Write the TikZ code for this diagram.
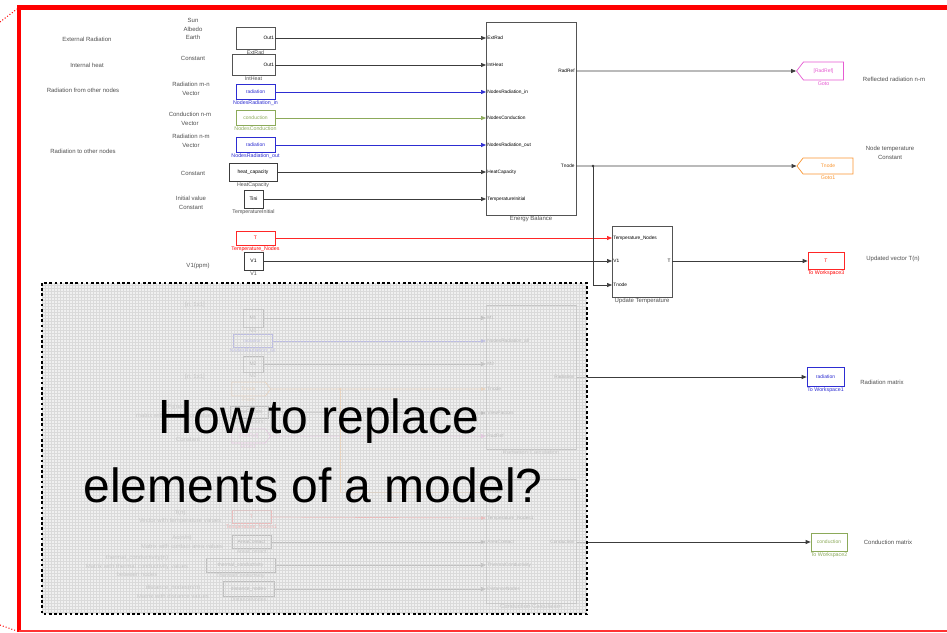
\documentclass[tikz,border=0pt]{standalone}
\usepackage{fontspec}
\setmainfont{Liberation Sans}
\usetikzlibrary{arrows.meta,shapes.symbols}

\definecolor{radblue}{RGB}{45,45,210}
\definecolor{condgreen}{RGB}{140,170,90}
\definecolor{tnorange}{RGB}{250,150,50}
\definecolor{refpink}{RGB}{230,90,210}
\definecolor{sigc}{RGB}{60,60,60}
\definecolor{notec}{RGB}{80,80,80}

\newcommand\smf{\fontsize{5}{6}\selectfont}
\newcommand\prf{\fontsize{4.8}{5.5}\selectfont}

\tikzset{
  blk/.style={draw=sigc, line width=0.7pt, fill=white, inner sep=0pt, font=\smf},
  sub/.style={blk, draw=gray!65!black, line width=0.8pt},
  lbl/.style={font=\fontsize{5.3}{6}\selectfont, inner sep=0.8pt, text=notec},
  biglbl/.style={font=\fontsize{6}{7}\selectfont, inner sep=0.8pt, text=notec},
  note/.style={font=\fontsize{6}{8.5}\selectfont, align=center, text=notec, inner sep=0pt},
  port/.style={font=\prf, inner sep=1.2pt, text=black},
  sig/.style={-{Triangle[length=5pt,width=4pt]}, line width=0.7pt, draw=sigc},
  tag/.style={signal, draw, line width=0.7pt, fill=white, inner sep=0pt, font=\smf, signal pointer angle=105},
}

\begin{document}
\begin{tikzpicture}[x=1pt,y=-1pt]
  \useasboundingbox (0,0) rectangle (947,632);
  \fill[white] (0,0) rectangle (947,632);

  \node[note] (n-ext) at (87,39) {External Radiation};
  \node[note] (n-int) at (87,65) {Internal heat};
  \node[note] (n-rfrom) at (83,90) {Radiation from other nodes};
  \node[note] (n-rto) at (83,151) {Radiation to other nodes};
  \node[note] (d-sun) at (193,29) {Sun\\Albedo\\Earth};
  \node[note] (d-c1) at (193,58) {Constant};
  \node[note] (d-rmn) at (191,89) {Radiation m-n\\Vector};
  \node[note] (d-cnm) at (190,119) {Conduction n-m\\Vector};
  \node[note] (d-rnm) at (191,141) {Radiation n-m\\Vector};
  \node[note] (d-c2) at (193,173) {Constant};
  \node[note] (d-ini) at (191,203) {Initial value\\Constant};
  \node[note] (d-v1) at (198,266) {V1(ppm)};

  \node[sub, minimum width=39, minimum height=22, label={[port,anchor=east]east:Out1}, label={[lbl]below:ExtRad}] (extrad) at (255.5,38) {};
  \node[sub, minimum width=43, minimum height=21, label={[port,anchor=east]east:Out1}, label={[lbl]below:IntHeat}] (intheat) at (253.5,65) {};
  \node[blk, draw=radblue, text=radblue, minimum width=39, minimum height=15, label={[lbl,text=radblue]below:NodesRadiation\_in}] (nrin) at (255.5,92) {radiation};
  \node[blk, draw=condgreen, text=condgreen, minimum width=39, minimum height=15, label={[lbl,text=condgreen]below:NodesConduction}] (ncond) at (255.5,118) {conduction};
  \node[blk, draw=radblue, text=radblue, minimum width=39, minimum height=15, label={[lbl,text=radblue]below:NodesRadiation\_out}] (nrout) at (255.5,145) {radiation};
  \node[blk, minimum width=48, minimum height=18, label={[lbl]below:HeatCapacity}] (heatcap) at (253,172) {heat\_capacity};
  \node[blk, minimum width=19, minimum height=18, label={[lbl]below:TemperatureInitial}] (tinit) at (253.5,199) {Tini};
  \node[blk, draw=red!85, text=red, minimum width=39, minimum height=14, label={[lbl,text=red]below:Temperature\_Nodes}] (tnodes) at (255.5,238) {T};
  \node[blk, minimum width=19, minimum height=18, label={[lbl]below:V1}] (vone) at (253.5,261) {V1};

  \node[sub, minimum width=90, minimum height=193, label={[biglbl]below:Energy Balance}] (eb) at (531,118.5) {};
  \foreach \py/\pt [count=\i] in {38/ExtRad,65/IntHeat,92/NodesRadiation\_in,118/NodesConduction,145/NodesRadiation\_out,172/HeatCapacity,199/TemperatureInitial}{
    \coordinate (eb-in\i) at (486,\py);
    \node[port, anchor=west] (eb-p\i) at (eb-in\i) {\pt};
  }
  \coordinate (eb-o1) at (576,71);
  \node[port, anchor=east] (eb-q1) at (eb-o1) {RadRef};
  \coordinate (eb-o2) at (576,166);
  \node[port, anchor=east] (eb-q2) at (eb-o2) {Tnode};
  \foreach \src/\i/\c in {extrad/1/sigc,intheat/2/sigc,nrin/3/radblue,ncond/4/condgreen,nrout/5/radblue,heatcap/6/sigc,tinit/7/sigc}
    \draw[sig, draw=\c] (\src.east) -- (eb-in\i);

  \node[tag, signal to=west, draw=refpink, text=refpink, minimum width=47, minimum height=18, label={[lbl,text=refpink]below:Goto}] (gotoref) at (823.5,71) {[RadRef]};
  \node[tag, signal to=west, draw=tnorange, text=tnorange, minimum width=56, minimum height=16, label={[lbl,text=tnorange]below:Goto1}] (gototn) at (828,166) {Tnode};
  \draw[sig] (eb-o1) -- (gotoref);
  \draw[sig] (eb-o2) -- (gototn);
  \node[note] (r-refl) at (894,79) {Reflected radiation n-m};
  \node[note] (r-node) at (890,153) {Node temperature\\Constant};

  \node[sub, minimum width=60, minimum height=71, label={[biglbl]below:Update Temperature}] (ut) at (642,261.5) {};
  \foreach \py/\pt [count=\i] in {238/Temperature\_Nodes,261/V1,285/Tnode}{
    \coordinate (ut-in\i) at (612,\py);
    \node[port, anchor=west] (ut-p\i) at (ut-in\i) {\pt};
  }
  \coordinate (ut-o) at (672,261);
  \node[port, anchor=east] (ut-q) at (ut-o) {T};
  \coordinate (tbr) at (593,166);
  \fill[sigc] (tbr) circle (1.4);
  \draw[sig, draw=red!85] (tnodes.east) -- (ut-in1);
  \draw[sig] (vone.east) -- (ut-in2);
  \draw[sig] (tbr) |- (ut-in3);
  \node[blk, draw=red!85, text=red, minimum width=36, minimum height=17, label={[lbl,text=red]below:To Workspace3}] (tows3) at (826,261) {T};
  \draw[sig] (ut-o) -- (tows3);
  \node[note] (r-upd) at (893,259) {Updated vector T(n)};

  \node[note] (g-n1) at (195,305) {[n, 1x1]};
  \node[note] (g-n2) at (195,377) {[n, 1x1]};
  \node[note] (g-vf) at (175,411) {VFij(n/n)\\matrix with view factor values};
  \node[note] (g-c) at (188,439) {Constant};
  \node[note] (g-t) at (180,517) {T(n)\\Vector with temperature values};
  \node[note] (g-ac) at (182,542) {Ac(n/n)\\Matrix with contact area values};
  \node[note] (g-th) at (137,566) {thermal\_conductivity(n)\\Matrix with thermal conductivity values\\between nodes};
  \node[note] (g-dn) at (173,592) {distance\_nodes(n/n)\\Matrix with distance values};

  \node[blk, minimum width=20, minimum height=18, label={[lbl]below:M1}] (mone) at (253,318) {M1};
  \node[blk, draw=radblue, text=radblue, minimum width=39, minimum height=13, label={[lbl,text=radblue]below:NodesRadiation\_all}] (nrall) at (252.5,341) {radiation};
  \node[blk, minimum width=20, minimum height=16, label={[lbl]below:M2}] (mtwo) at (253,364) {M2};
  \node[tag, signal to=east, draw=tnorange, text=tnorange, minimum width=39, minimum height=14, label={[lbl,text=tnorange]below:From}] (fromtn) at (248.5,389) {Tnode};
  \node[blk, minimum width=38, minimum height=12, label={[lbl]below:ViewFactors}] (vf) at (249,412) {ViewFactors};
  \node[tag, signal to=east, draw=refpink, text=refpink, minimum width=39, minimum height=14, label={[lbl,text=refpink]below:From1}] (fromref) at (248.5,436) {[RadRef]};
  \node[blk, draw=red!85, text=red, minimum width=39, minimum height=13, label={[lbl,text=red]below:Temperature\_Nodes1}] (tnone) at (251.5,517) {T};
  \node[blk, minimum width=39, minimum height=13, label={[lbl]below:AreaContact}] (area) at (251.5,542) {AreaContact};
  \node[blk, minimum width=69, minimum height=14, label={[lbl]below:ThermalConductivity}] (thcond) at (240.5,565) {thermal\_conductivity};
  \node[blk, minimum width=51, minimum height=15, label={[lbl]below:DistanceNodes}] (dist) at (248.5,589) {distance\_nodes};

  \node[sub, minimum width=90, minimum height=144, label={[biglbl]below:Radiation Calculation}] (rc) at (531,377) {};
  \foreach \py/\pt [count=\i] in {318/M1,341/NodesRadiation\_all,364/M2,389/Tnode,413/ViewFactors,436/RadRef}{
    \coordinate (rc-in\i) at (486,\py);
    \node[port, anchor=west] (rc-p\i) at (rc-in\i) {\pt};
  }
  \coordinate (rc-o) at (576,377);
  \node[port, anchor=east] (rc-q) at (rc-o) {Radiation};
  \node[sub, minimum width=90, minimum height=124, label={[biglbl]below:Conduction Calculation}] (cc) at (531,541) {};
  \foreach \py/\pt [count=\i] in {492/Tnode,518/Temperature\_Nodes1,542/AreaContact,565/ThermalConductivity,589/DistanceNodes}{
    \coordinate (cc-in\i) at (486,\py);
    \node[port, anchor=west] (cc-p\i) at (cc-in\i) {\pt};
  }
  \coordinate (cc-o) at (576,542);
  \node[port, anchor=east] (cc-q) at (cc-o) {Conduction};

  \draw[sig] (mone.east) -- (rc-in1);
  \draw[sig, draw=radblue] (nrall.east) -- (rc-in2);
  \draw[sig] (mtwo.east) -- (rc-in3);
  \draw[sig, draw=tnorange] (fromtn) -- (rc-in4);
  \draw[sig] (vf.east) -- (rc-in5);
  \draw[sig, draw=refpink] (fromref) -- (rc-in6);
  \coordinate (tbr2) at (340,389);
  \fill[tnorange] (tbr2) circle (1.4);
  \draw[sig, draw=tnorange] (tbr2) |- (cc-in1);
  \draw[sig, draw=red!85] (tnone.east) -- (cc-in2);
  \draw[sig] (area.east) -- (cc-in3);
  \draw[sig] (thcond.east) -- (cc-in4);
  \draw[sig] (dist.east) -- (cc-in5);

  \node[blk, draw=radblue, text=radblue, minimum width=37, minimum height=19, label={[lbl,text=radblue]below:To Workspace1}] (tows1) at (825.5,377) {radiation};
  \node[blk, draw=condgreen, text=condgreen, minimum width=36, minimum height=18, label={[lbl,text=condgreen]below:To Workspace2}] (tows2) at (829,542) {conduction};
  \draw[sig] (rc-o) -- (tows1);
  \draw[sig] (cc-o) -- (tows2);
  \node[note] (r-rad) at (882,382) {Radiation matrix};
  \node[note] (r-cond) at (888,542) {Conduction matrix};

  \fill[gray!15, fill opacity=0.75] (42,283) rectangle (587,614);
  \draw[gray!40, line width=0.2pt, step=3pt, opacity=0.6] (42,614) grid (587,283);
  \draw[line width=2.6pt, dash pattern=on 2.6pt off 2.6pt] (42,283) rectangle (587,614);
  \node[font=\fontsize{48}{56}\selectfont, anchor=base, inner sep=0pt] (q1) at (319,433) {How to replace};
  \node[font=\fontsize{48}{56}\selectfont, anchor=base, inner sep=0pt] (q2) at (313,502) {elements of a model?};

  \draw[red, line width=4.5pt] (19,632) -- (19,7.5) -- (947,7.5);
  \draw[red!80, line width=1.4pt] (19,631) -- (947,631);
  \draw[red, dotted, line width=1pt] (0,22) -- (17,9);
  \draw[red, dotted, line width=1pt] (0,625) -- (17,631);
\end{tikzpicture}
\end{document}
